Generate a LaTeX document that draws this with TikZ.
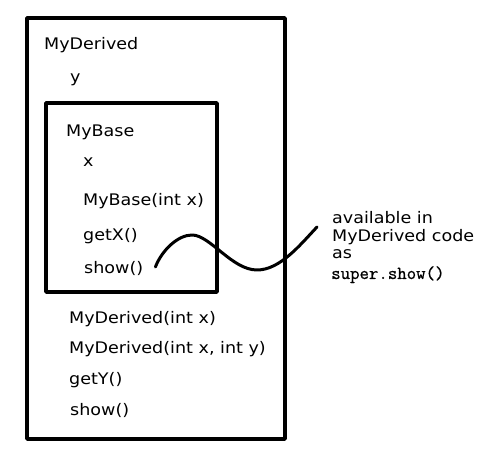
\documentclass[tikz,border=0pt]{standalone}
\usepackage{fontspec}
\setmainfont[FakeStretch=1.1]{DejaVu Sans}
\newfontfamily\codefont[FakeBold=0.8]{Latin Modern Mono}
\usepackage{tikz}
\usetikzlibrary{arrows.meta}

\begin{document}
\begin{tikzpicture}[>=latex,line join=bevel,
  txt/.style={anchor=base west,inner sep=0pt,font=\fontsize{16}{19}\selectfont},
  box/.style={draw=black,line width=4bp},
  wire/.style={black,line width=3bp,line cap=round}]
%%
\useasboundingbox (0bp,0bp) rectangle (500bp,450bp);
\draw [box] (27bp,432bp) rectangle (285bp,11bp);
\draw [box] (46bp,347bp) rectangle (217bp,158bp);
%% MyDerived
\node (node_derived) at (44bp,400bp) [txt] {MyDerived};
  \node (node_y) at (70bp,367bp) [txt] {y};
%% MyBase
  \node (node_base) at (66bp,313bp) [txt] {MyBase};
  \node (node_x) at (83bp,283bp) [txt] {x};
  \node (node_ctor) at (83bp,244bp) [txt] {MyBase(int x)};
  \node (node_getx) at (83bp,209bp) [txt] {getX()};
  \node (node_show) at (84bp,176bp) [txt] {show()};
%% rest of MyDerived
  \node (node_dctor1) at (69bp,126bp) [txt] {MyDerived(int x)};
  \node (node_dctor2) at (69bp,96bp) [txt] {MyDerived(int x, int y)};
  \node (node_gety) at (69bp,65bp) [txt] {getY()};
  \node (node_dshow) at (70bp,35bp) [txt] {show()};
%% note
  \node (note_0) at (332bp,226bp) [txt] {available in};
  \node (note_1) at (332bp,208bp) [txt] {MyDerived code};
  \node (note_2) at (332bp,191bp) [txt] {as};
  \node (note_3) at (331bp,171bp) [txt,font=\fontsize{18.4}{19}\codefont] {super.show()};
  \coordinate (note_end) at (317bp,223bp);
  \draw [wire] ([xshift=12bp,yshift=2bp]node_show.east) ..controls (162bp,200bp) and (178bp,215bp) .. (192bp,215bp) .. controls (210bp,215bp) and (232bp,180bp) .. (257bp,180bp) .. controls (280bp,180bp) and (300bp,205bp) .. (note_end);
%
\end{tikzpicture}
\end{document}
